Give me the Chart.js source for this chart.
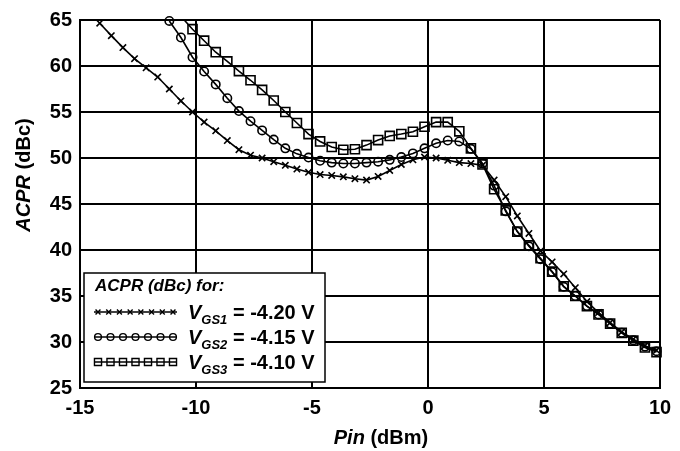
<!DOCTYPE html>
<html>
<head>
<meta charset="utf-8">
<script src="https://cdn.jsdelivr.net/npm/chart.js@4/dist/chart.umd.min.js"></script>
<style>
  html, body { margin: 0; padding: 0; background: #fff; }
  #wrap { width: 680px; height: 451px; }
</style>
</head>
<body>
<div id="wrap"><canvas id="myChart" width="680" height="451"></canvas></div>
<script>
// input power (dBm), sample positions
const pin = [-14.15, -13.65, -13.15, -12.65, -12.15, -11.65, -11.15, -10.65, -10.15, -9.65,
             -9.15, -8.65, -8.15, -7.65, -7.15, -6.65, -6.15, -5.65, -5.15, -4.65,
             -4.15, -3.65, -3.15, -2.65, -2.15, -1.65, -1.15, -0.65, -0.15, 0.35,
             0.85, 1.35, 1.85, 2.35, 2.85, 3.35, 3.85, 4.35, 4.85, 5.35,
             5.85, 6.35, 6.85, 7.35, 7.85, 8.35, 8.85, 9.35, 9.85];

// ACPR (dBc) for each gate bias
const acprVgs1 = [64.65, 63.3, 62.0, 60.8, 59.8, 58.8, 57.5, 56.2, 55.0, 53.9,
                  52.95, 51.9, 50.9, 50.3, 50.0, 49.6, 49.2, 48.8, 48.45, 48.2,
                  48.1, 47.95, 47.75, 47.6, 48.0, 48.65, 49.3, 49.8, 50.1, 50.0,
                  49.75, 49.5, 49.4, 49.2, 47.6, 45.8, 43.7, 41.8, 39.9, 38.7,
                  37.4, 35.9, 34.4, 33.2, 32.1, 31.1, 30.3, 29.6, 29.1];
const acprVgs2 = [null, null, null, null, null, null, 64.9, 63.1, 60.95, 59.4,
                  58.0, 56.5, 55.1, 54.0, 53.0, 52.0, 51.05, 50.45, 50.05, 49.7,
                  49.5, 49.4, 49.4, 49.5, 49.6, 49.8, 50.1, 50.5, 51.05, 51.6,
                  51.9, 51.8, 51.0, 49.4, 47.0, 44.2, 42.0, 40.4, 39.0, 37.6,
                  36.0, 35.0, 33.9, 33.0, 32.0, 31.0, 30.2, 29.5, 29.0];
const acprVgs3 = [null, null, null, null, null, null, null, 65.4, 64.0, 62.75,
                  61.5, 60.5, 59.45, 58.45, 57.4, 56.25, 55.0, 53.8, 52.6, 51.8,
                  51.2, 50.9, 50.95, 51.4, 51.95, 52.4, 52.6, 52.85, 53.4, 53.9,
                  53.9, 52.9, 51.05, 49.3, 46.6, 44.3, 42.0, 40.5, 39.1, 37.65,
                  36.05, 35.0, 33.9, 33.0, 32.0, 31.0, 30.15, 29.4, 28.9];

const seriesNames = ['GS1', 'GS2', 'GS3'];
const seriesBias = [' = -4.20 V', ' = -4.15 V', ' = -4.10 V'];

const xTicks = [-15, -10, -5, 0, 5, 10];
const yTicks = [25, 30, 35, 40, 45, 50, 55, 60, 65];

const FONT = "'Liberation Sans', Arial, sans-serif";

function toPoints(ys) {
    return pin.map((x, i) => ({ x: x, y: ys[i] }));
}

const markerStyles = [
    { pointStyle: 'crossRot', radius: 4.5 },
    { pointStyle: 'circle', radius: 4.2 },
    { pointStyle: 'rect', radius: 6.4 }
];

function dataset(ys, i, clip) {
    const r = markerStyles[i].radius;
    return {
        label: 'V' + seriesNames[i] + seriesBias[i],
        data: toPoints(ys),
        borderColor: '#000',
        borderWidth: 1.6,
        pointStyle: markerStyles[i].pointStyle,
        // points beyond the top of the axis only carry the line to the edge
        pointRadius: c => (c.raw && c.raw.y > yTicks[yTicks.length - 1] ? 0 : r),
        pointBorderColor: '#000',
        pointBackgroundColor: 'rgba(0,0,0,0)',
        pointBorderWidth: 1.6,
        tension: 0,
        spanGaps: false,
        clip: clip
    };
}

// axis titles with mixed italic / upright parts
const axisTitles = {
    id: 'axisTitles',
    afterDraw(chart) {
        const ctx = chart.ctx;
        ctx.save();
        ctx.fillStyle = '#000';
        ctx.textBaseline = 'middle';
        const xa = 'italic bold 20px ' + FONT;
        const xb = 'bold 20px ' + FONT;
        // x title
        ctx.font = xa; const w1 = ctx.measureText('Pin').width;
        ctx.font = xb; const w2 = ctx.measureText(' (dBm)').width;
        let x0 = 381 - (w1 + w2) / 2;
        ctx.font = xa; ctx.fillText('Pin', x0, 438);
        ctx.font = xb; ctx.fillText(' (dBm)', x0 + w1, 438);
        // y title
        ctx.translate(24, 175);
        ctx.rotate(-Math.PI / 2);
        ctx.font = xa; const w3 = ctx.measureText('ACPR').width;
        ctx.font = xb; const w4 = ctx.measureText(' (dBc)').width;
        x0 = -(w3 + w4) / 2;
        ctx.font = xa; ctx.fillText('ACPR', x0, 0);
        ctx.font = xb; ctx.fillText(' (dBc)', x0 + w3, 0);
        ctx.restore();
    }
};

// boxed legend inside the plot
const boxLegend = {
    id: 'boxLegend',
    afterDatasetsDraw(chart) {
        const ctx = chart.ctx;
        const left = 84, top = 273, w = 241, h = 109;
        ctx.save();
        ctx.fillStyle = '#fff';
        ctx.fillRect(left, top, w, h);
        ctx.strokeStyle = '#000';
        ctx.lineWidth = 1.5;
        ctx.strokeRect(left, top, w, h);

        ctx.fillStyle = '#000';
        ctx.textBaseline = 'alphabetic';
        ctx.font = 'italic bold 17px ' + FONT;
        ctx.fillText('ACPR (dBc) for:', 95, 291);

        for (let i = 0; i < 3; i++) {
            const y = 312 + 25 * i;
            ctx.strokeStyle = '#000';
            ctx.lineWidth = 1.5;
            ctx.beginPath();
            ctx.moveTo(94, y);
            ctx.lineTo(177, y);
            ctx.stroke();
            const n = i === 0 ? 8 : 7;
            ctx.save();
            ctx.fillStyle = 'rgba(0,0,0,0)';
            ctx.lineWidth = 1.4;
            for (let k = 0; k < n; k++) {
                const px = 98 + k * (75 / (n - 1));
                Chart.helpers.drawPoint(ctx, {
                    pointStyle: markerStyles[i].pointStyle,
                    radius: i === 0 ? 3.5 : (i === 1 ? 3.4 : 5),
                    rotation: 0,
                    borderWidth: 1.4
                }, px, y);
            }
            ctx.restore();
            let tx = 188;
            const base = y + 7;
            ctx.fillStyle = '#000';
            ctx.font = 'italic bold 20px ' + FONT;
            ctx.fillText('V', tx, base);
            tx += ctx.measureText('V').width;
            ctx.font = 'italic bold 13px ' + FONT;
            ctx.fillText(seriesNames[i], tx, base + 5);
            tx += ctx.measureText(seriesNames[i]).width;
            ctx.font = 'bold 20px ' + FONT;
            ctx.fillText(seriesBias[i], tx, base);
        }
        ctx.restore();
    }
};

const ctx = document.getElementById('myChart').getContext('2d');
const myChart = new Chart(ctx, {
    type: 'line',
    data: {
        datasets: [
            dataset(acprVgs1, 0, 0),
            dataset(acprVgs2, 1, { left: 0, top: 5, right: 6, bottom: 0 }),
            dataset(acprVgs3, 2, { left: 0, top: 0, right: 6, bottom: 0 })
        ]
    },
    options: {
        responsive: false,
        animation: false,
        devicePixelRatio: 1,
        layout: { padding: { left: 0, top: 15, right: 20, bottom: 0 } },
        plugins: {
            legend: { display: false },
            tooltip: { enabled: false }
        },
        scales: {
            x: {
                type: 'linear',
                min: xTicks[0],
                max: xTicks[xTicks.length - 1],
                afterFit(scale) { scale.height = 63; },
                afterBuildTicks(scale) { scale.ticks = xTicks.map(v => ({ value: v })); },
                grid: { color: '#000', lineWidth: 2, tickLength: 0 },
                border: { color: '#000', width: 2 },
                ticks: {
                    color: '#000',
                    padding: 8,
                    maxRotation: 0,
                    font: { family: FONT, size: 20, weight: 'bold' }
                }
            },
            y: {
                type: 'linear',
                min: yTicks[0],
                max: yTicks[yTicks.length - 1],
                afterFit(scale) { scale.width = 80; },
                afterBuildTicks(scale) { scale.ticks = yTicks.map(v => ({ value: v })); },
                grid: { color: '#000', lineWidth: 2, tickLength: 0 },
                border: { color: '#000', width: 2 },
                ticks: {
                    color: '#000',
                    padding: 8,
                    font: { family: FONT, size: 20, weight: 'bold' }
                }
            }
        }
    },
    plugins: [boxLegend, axisTitles]
});
</script>
</body>
</html>
